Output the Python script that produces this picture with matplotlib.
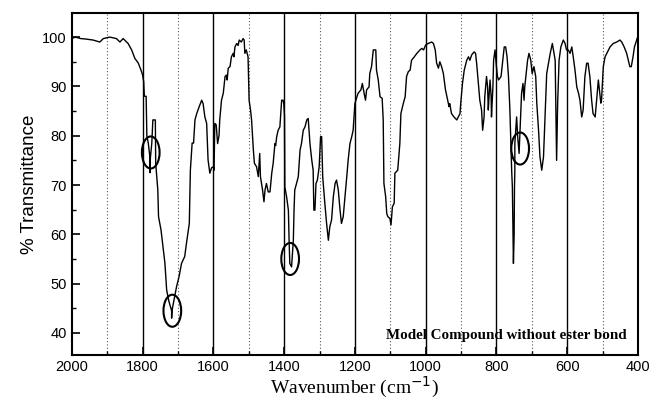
import matplotlib
matplotlib.use('Agg')
from matplotlib import pyplot as plt
from matplotlib.patches import Ellipse
from matplotlib.ticker import MultipleLocator

# IR spectrum (wavenumber cm-1, %T)
wavenumber = [
    2000, 1990, 1975, 1960, 1940, 1921, 1911, 1893, 1874, 1864, 1855, 1841,
    1831, 1822, 1812, 1803, 1800,
    1797, 1795, 1790, 1788, 1784, 1779, 1779, 1778, 1774, 1771, 1764, 1763,
    1757, 1755, 1748, 1737, 1732, 1726, 1722, 1718, 1718, 1717, 1713, 1704,
    1697, 1690, 1681, 1676, 1668, 1666, 1665, 1660, 1656, 1652, 1647, 1640,
    1633, 1629, 1624, 1619, 1615, 1610, 1605, 1600,
    1598, 1596, 1592, 1588, 1584, 1582, 1577, 1572, 1567, 1563, 1561, 1558,
    1553, 1549, 1544, 1542, 1539, 1534, 1530, 1527, 1521, 1516, 1513, 1511,
    1507, 1502, 1499, 1495, 1492, 1487, 1484, 1478, 1473, 1469, 1467, 1461,
    1457, 1454, 1450, 1445, 1440, 1435, 1431, 1426, 1424, 1421, 1417, 1412,
    1407, 1403, 1401, 1399, 1398, 1393, 1388, 1386, 1384, 1379, 1376, 1374,
    1372, 1370, 1365, 1360, 1355, 1351, 1346, 1341, 1336, 1332, 1327, 1322,
    1318, 1316, 1313, 1310, 1306, 1301, 1297, 1294, 1291, 1285, 1280, 1275,
    1271, 1266, 1261, 1256, 1252, 1247, 1242, 1238, 1233, 1228, 1223, 1219,
    1214, 1209, 1205, 1200, 1196,
    1191, 1183, 1179, 1174, 1170, 1167, 1160, 1158, 1153, 1148, 1141, 1139,
    1134, 1129, 1123, 1120, 1118, 1113, 1110, 1107, 1101, 1098, 1094, 1089,
    1087, 1079, 1073, 1070, 1063, 1058, 1054, 1049, 1044, 1040, 1032, 1025,
    1016, 1011, 1006, 1000, 993, 983, 978, 973, 969, 964, 960, 955, 950, 944,
    938, 934, 932, 927, 920, 912, 908, 903, 901, 896, 891, 884, 879, 875, 870,
    863, 859, 856, 851, 847, 842, 839, 835, 833, 828, 825, 823, 821, 818, 815,
    814, 810, 808, 804,
    800, 797, 794, 787, 783, 778, 774, 770, 766, 762, 759, 757, 755, 753, 752,
    750, 749, 748, 748, 743, 740, 736, 734, 731, 729, 725, 722, 720, 717, 712,
    708, 703, 699, 694, 689, 686, 681, 677, 672, 667, 663, 658, 653, 648, 642,
    634, 630, 627, 623, 618, 611, 606, 602,
    597, 592, 587, 583, 578, 573, 568, 564, 559, 555, 550, 545, 541, 536, 531,
    527, 521, 517, 512, 509, 505, 503, 498, 493, 486, 479, 470, 460, 451, 446,
    439, 432, 423, 419, 414, 410, 401,
]
transmittance = [
    99.7, 100, 99.7, 99.6, 99.4, 99.0, 99.7, 100, 99.7, 99.0, 99.7, 98.7,
    97.4, 95.7, 94.7, 93.0, 92.3,
    91, 88, 88, 80, 78.5, 75.5, 72.5, 75.5, 78.5, 83.2, 83.2, 74.4,
    69, 63.6, 60.9, 54.2, 48.7, 46.5, 45.5, 44.5, 43, 44.5, 46, 49.4,
    51.4, 54.1, 55.5, 58.2, 62.2, 69, 73, 78.5, 78.5, 83.2, 84.5, 85.9,
    87.2, 86.5, 83.8, 82.5, 75.1, 72.4, 73.5, 73.7,
    73, 82.5, 82.2, 78.4, 80, 83.2, 87.2, 88.6, 92, 92.3, 91.3, 93.7,
    94, 96, 96.7, 96, 98, 98.7, 98.3, 99.4, 99, 99.7, 99.4, 96.7,
    97.4, 96, 87.2, 85.2, 83.2, 77.1, 74.4, 73.7, 71.7, 76.4, 71.7, 69,
    66.6, 69, 70.3, 68.6, 68.6, 72.4, 74.4, 78.4, 78, 79.8, 81.1, 81.8,
    87.2, 87.2, 86.5, 84, 69.6, 67.6, 64.9, 58.8, 54.1, 53.4, 56.8, 58.8,
    64.9, 69, 70.3, 71.7, 77.1, 78.4, 81.1, 81.8, 83.2, 83.5, 78.4, 75.1,
    73, 64.9, 64.9, 70.3, 71, 73.7, 79.8, 79.8, 71.7, 66.3, 62.2, 58.8,
    61.5, 62.9, 67.6, 70.3, 71, 69, 64.9, 62.2, 63.6, 67.6, 71.7, 75.1,
    78.4, 79.8, 81.1, 86.5, 87.5,
    88.6, 89.3, 90.6, 88.6, 87.2, 89.3, 89.9, 92.6, 94, 97.4, 97.4, 93.3,
    91.3, 87.9, 87.6, 83.2, 70.3, 67.6, 64.2, 63.6, 63.2, 61.9, 65.6, 66.3,
    72.4, 73, 78.4, 84.5, 86.6, 87.9, 92, 93, 93.3, 95.3, 96, 96.7,
    97.4, 97.7, 97.4, 98.4, 98.7, 99, 98.7, 97.4, 94.7, 93.7, 95, 94, 92.6, 89.3,
    87.2, 85.9, 86.5, 84.5, 83.8, 83.2, 83.8, 84.5, 86.5, 90.6, 93.3, 95.3, 96, 95.3, 96.4,
    97, 96.7, 94.7, 90.6, 87.2, 85.2, 81.1, 83.8, 87.9, 92, 89.9, 85.2, 87.9, 91.3, 87.9,
    83.8, 89.9, 95.3, 97.4,
    94, 92, 91.3, 92, 94.7, 98, 98, 96, 92, 85.2, 77.8, 73, 69.6, 60, 54.1,
    60, 69.6, 73, 78.4, 83.8, 79.8, 76.4, 79.8, 85.2, 88.6, 90.6, 87.2, 89.9, 92, 95.3,
    96.7, 95.3, 92.6, 94, 92, 86.6, 81.1, 75.7, 73, 75.7, 83.2, 92.6, 94.7, 96.7, 98.7,
    95.3, 75, 86.6, 95.3, 98, 99.4, 98.7, 97.4,
    97.4, 96.7, 98, 96, 93.3, 89.9, 88.6, 87.2, 83.8, 85.2, 92, 94.7, 94.7, 92, 87.2,
    84.5, 83.8, 87.2, 91.3, 89.3, 86.6, 87.2, 94, 96, 97, 98, 98.7, 99, 99.4, 99,
    98, 96.7, 94, 94, 96, 98, 100,
]

# marked bands (centre wavenumber, centre %T)
circle_wn = [1777, 1716, 1383, 733]
circle_t = [76.6, 44.5, 55.0, 77.4]

major_grid = [1800, 1600, 1400, 1200, 1000, 800, 600]
minor_grid = [1900, 1700, 1500, 1300, 1100, 900, 700, 500]

fig = plt.figure(figsize=(6.53, 4.04), dpi=100)
ax = fig.add_axes([0.110, 0.121, 0.867, 0.847])

for g in major_grid:
    ax.axvline(g, color='black', lw=1.0, zorder=1)
for g in minor_grid:
    ax.axvline(g, color='#555555', lw=0.8, ls=(0, (1, 2)), zorder=1)

ax.plot(wavenumber, transmittance, color='black', lw=1.0, zorder=3)

for w, t in zip(circle_wn, circle_t):
    ax.add_patch(Ellipse((w, t), width=50, height=6.5, fill=False,
                         edgecolor='black', lw=1.5, zorder=4))

ax.text(431, 39.4, 'Model Compound without ester bond', ha='right',
        va='center', family='Liberation Serif', fontweight='bold',
        fontsize=10.8, zorder=5)

ax.set_xlim(2000, 400)
ax.set_ylim(35.5, 104.9)
ax.xaxis.set_major_locator(MultipleLocator(200))
ax.xaxis.set_minor_locator(MultipleLocator(100))
ax.yaxis.set_major_locator(MultipleLocator(10))
ax.yaxis.set_minor_locator(MultipleLocator(5))
ax.set_yticks([40, 50, 60, 70, 80, 90, 100])
ax.tick_params(which='major', direction='in', length=6, width=1.2,
               labelsize=10.5)
ax.tick_params(which='minor', direction='in', length=3, width=1.0)
for label in ax.get_xticklabels() + ax.get_yticklabels():
    label.set_family('Liberation Sans')

for spine in ax.spines.values():
    spine.set_linewidth(1.5)

ax.set_xlabel('Wavenumber (cm$^{-1}$)', family='Liberation Serif',
              fontsize=14, labelpad=1)
ax.set_ylabel('% Transmittance', family='Liberation Sans', fontsize=13.5,
              labelpad=3)

fig.savefig('out.png', dpi=100)
